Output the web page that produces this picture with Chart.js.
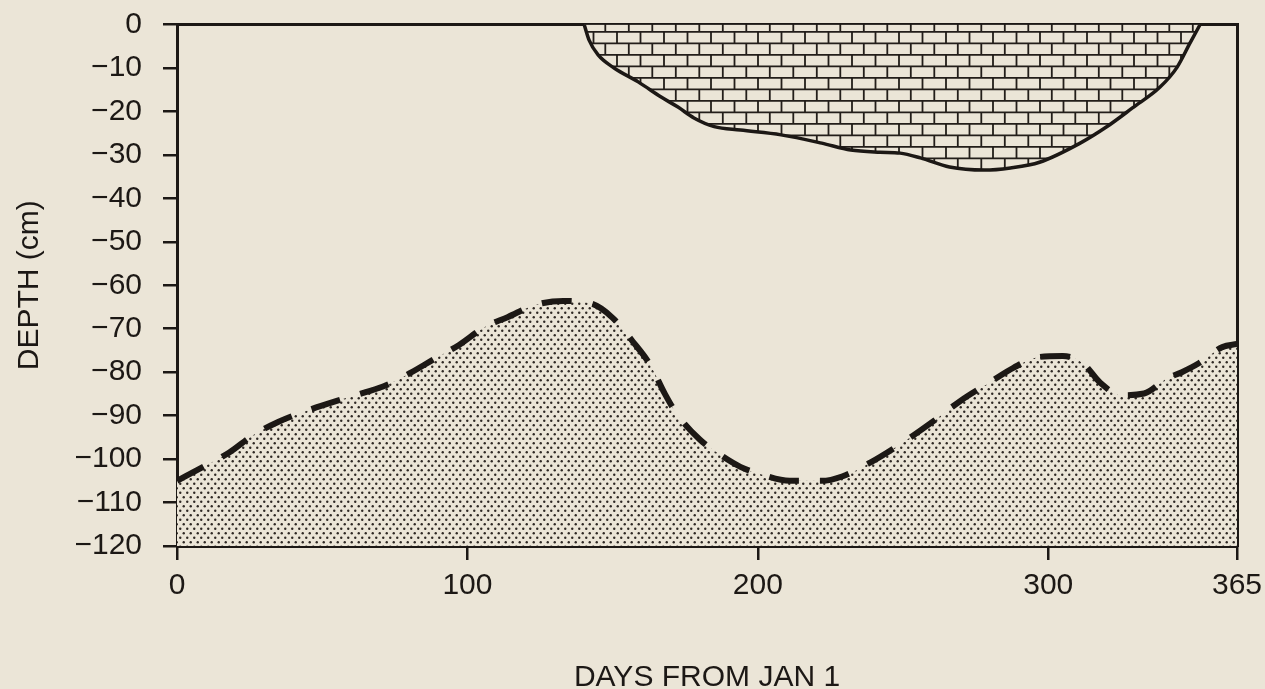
<!DOCTYPE html>
<html>
<head>
<meta charset="utf-8">
<script src="https://cdn.jsdelivr.net/npm/chart.js@4/dist/chart.umd.min.js"></script>
<style>
  html, body { margin: 0; padding: 0; background: #ebe5d7; }
  #wrap { width: 1265px; height: 689px; }
  canvas { display: block; }
</style>
</head>
<body>
<div id="wrap"><canvas id="c" width="1265" height="689"></canvas></div>
<script>
// Axis ticks
const xTicks = [0, 100, 200, 300, 365];
const yTicks = [0, -10, -20, -30, -40, -50, -60, -70, -80, -90, -100, -110, -120];

// Upper (brick-hatched) layer: lower boundary depth by day
const upperDays  = [140.2, 141.9, 145, 150.5, 158.8, 166.7, 172.5, 178, 185, 194, 208, 222, 232, 242, 249, 256, 266, 278, 287, 297, 311, 320, 329, 338.5, 344.4, 348.8, 352.3];
const upperDepth = [0, -3.6, -7, -10, -13.2, -16.7, -19, -21.5, -23.5, -24.3, -25.4, -27.3, -28.9, -29.4, -29.6, -30.7, -32.8, -33.5, -33, -31.7, -27.3, -23.6, -19.2, -14.4, -9.8, -4.3, 0];

// Lower (stippled) layer: upper boundary depth by day
const lowerDays  = [0, 9, 18, 26, 35, 45, 55, 65, 72, 80, 89, 97, 106, 114, 123, 133, 143, 150, 157, 163, 168, 172, 180, 187, 194, 201, 211, 222, 229, 239, 249, 260, 270, 280, 288, 297, 305, 312, 318, 325, 333, 341, 346, 352, 360, 365];
const lowerDepth = [-105, -101.8, -98.5, -94.6, -91.4, -88.8, -86.6, -84.6, -83, -80.3, -76.8, -73.8, -69.6, -67.3, -64.6, -63.6, -64.3, -67.5, -73, -78.4, -85, -89.5, -95.5, -99, -101.8, -103.5, -105, -105, -104, -100.7, -96.6, -91.5, -86.5, -82.3, -79, -76.5, -76.3, -78, -82.5, -85.3, -84.9, -81.4, -80, -77.9, -74.2, -73.5];

const PAPER = '#ebe5d7';
const INK = '#1c1815';
const FONT = { family: '"Liberation Sans", Arial, Helvetica, sans-serif', size: 30 };

const canvas = document.getElementById('c');
const ctx = canvas.getContext('2d');

function brickPattern() {
  const t = document.createElement('canvas');
  t.width = 47; t.height = 23;
  const g = t.getContext('2d');
  g.fillStyle = PAPER;
  g.fillRect(0, 0, 47, 23);
  g.strokeStyle = '#231e1a';
  g.lineWidth = 1.8;
  g.beginPath();
  g.moveTo(0, 0.9); g.lineTo(47, 0.9);
  g.moveTo(0, 12.4); g.lineTo(47, 12.4);
  g.moveTo(1, 0); g.lineTo(1, 12.4);
  g.moveTo(24.5, 0); g.lineTo(24.5, 12.4);
  g.moveTo(12.8, 12.4); g.lineTo(12.8, 23);
  g.moveTo(36.3, 12.4); g.lineTo(36.3, 23);
  g.stroke();
  const p = ctx.createPattern(t, 'repeat');
  p.setTransform(new DOMMatrix().translate(5, 8));
  return p;
}

function dotPattern() {
  const t = document.createElement('canvas');
  t.width = 7; t.height = 9;
  const g = t.getContext('2d');
  g.fillStyle = PAPER;
  g.fillRect(0, 0, 7, 9);
  g.fillStyle = '#2e2824';
  [[1.75, 2.25], [5.25, 6.75]].forEach(([x, y]) => {
    g.beginPath(); g.arc(x, y, 1.2, 0, Math.PI * 2); g.fill();
  });
  return ctx.createPattern(t, 'repeat');
}

const paperBg = {
  id: 'paperBg',
  beforeDraw(chart) {
    const c = chart.ctx;
    c.save();
    c.fillStyle = PAPER;
    c.fillRect(0, 0, chart.width, chart.height);
    c.restore();
  }
};

const minusLabel = v => (v < 0 ? '\u2212' + Math.abs(v) : String(v));

new Chart(ctx, {
  type: 'line',
  data: {
    datasets: [
      {
        data: lowerDays.map((d, i) => ({ x: d, y: lowerDepth[i] })),
        borderColor: INK,
        borderWidth: 6,
        borderDash: [30, 21],
        backgroundColor: dotPattern(),
        fill: 'start',
        cubicInterpolationMode: 'monotone',
        pointRadius: 0
      },
      {
        data: upperDays.map((d, i) => ({ x: d, y: upperDepth[i] })),
        borderColor: INK,
        borderWidth: 3.5,
        backgroundColor: brickPattern(),
        fill: 'end',
        cubicInterpolationMode: 'monotone',
        pointRadius: 0
      }
    ]
  },
  options: {
    responsive: false,
    animation: false,
    devicePixelRatio: 1,
    layout: { padding: { left: 8, right: 28, top: 24.5, bottom: 0 } },
    plugins: { legend: { display: false }, tooltip: { enabled: false } },
    scales: {
      x: {
        type: 'linear',
        position: 'bottom',
        min: 0, max: 365,
        afterBuildTicks: s => { s.ticks = xTicks.map(v => ({ value: v })); },
        afterFit: s => { s.height = 143; s.paddingLeft = 0; s.paddingRight = 0; },
        ticks: { font: FONT, color: INK, padding: 8, maxRotation: 0, autoSkip: false },
        grid: { drawOnChartArea: false, drawTicks: true, tickLength: 14, color: INK, lineWidth: 2.5 },
        border: { color: INK, width: 3 },
        title: { display: true, text: 'DAYS FROM JAN 1', font: FONT, color: INK, padding: { top: 0, bottom: -7 } }
      },
      y: {
        type: 'linear',
        position: 'left',
        min: -120, max: 0,
        afterBuildTicks: s => { s.ticks = yTicks.map(v => ({ value: v })); },
        afterFit: s => { s.width = 169; s.paddingTop = 0; s.paddingBottom = 0; },
        ticks: { font: FONT, color: INK, padding: 21, autoSkip: false, callback: minusLabel },
        grid: { drawOnChartArea: false, drawTicks: true, tickLength: 14, color: INK, lineWidth: 2.5 },
        border: { color: INK, width: 3 },
        title: { display: true, text: 'DEPTH (cm)', font: FONT, color: INK, padding: 4 }
      },
      xTop: {
        type: 'linear',
        position: 'top',
        min: 0, max: 365,
        afterFit: s => { s.height = 0; s.paddingLeft = 0; s.paddingRight = 0; },
        ticks: { display: false },
        grid: { drawOnChartArea: false, drawTicks: false },
        border: { color: INK, width: 3 }
      },
      yRight: {
        type: 'linear',
        position: 'right',
        min: -120, max: 0,
        afterFit: s => { s.width = 0; s.paddingTop = 0; s.paddingBottom = 0; },
        ticks: { display: false },
        grid: { drawOnChartArea: false, drawTicks: false },
        border: { color: INK, width: 3 }
      }
    }
  },
  plugins: [paperBg]
});
</script>
</body>
</html>
